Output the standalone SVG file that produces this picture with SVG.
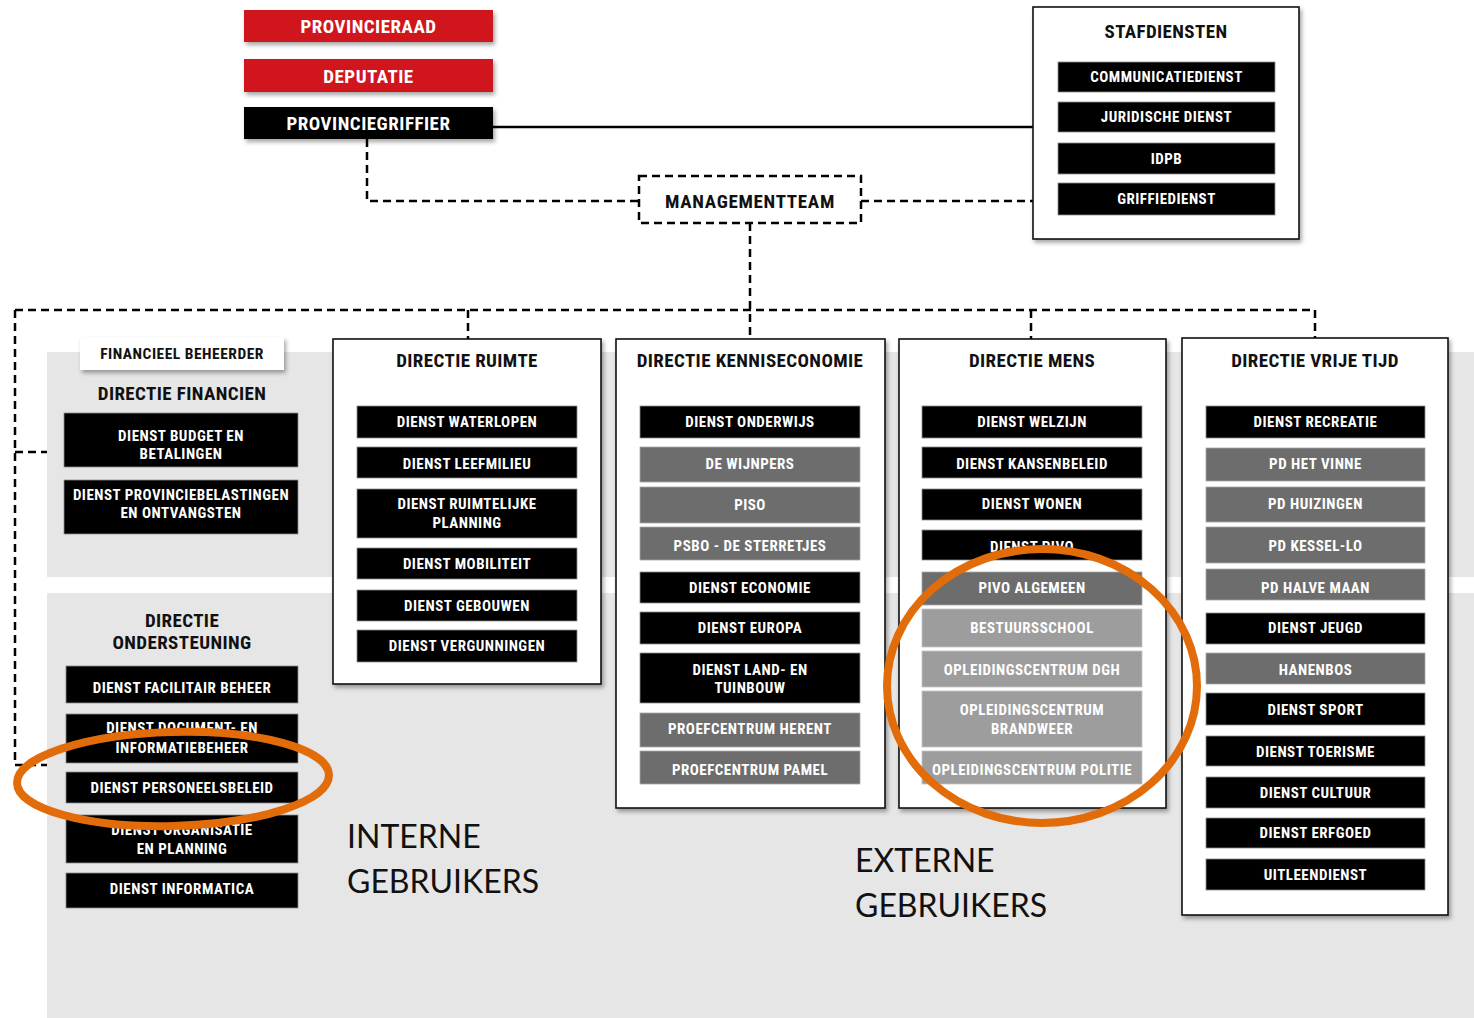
<svg xmlns="http://www.w3.org/2000/svg" width="1474" height="1018" viewBox="0 0 1474 1018">
<style>
.t{font-family:"Liberation Sans Narrow","Roboto Condensed","DejaVu Sans Condensed","Liberation Sans",sans-serif;font-weight:bold;text-anchor:middle;dominant-baseline:central}
.s{font-size:15px;letter-spacing:0.5px;fill:#fff}
.h{font-size:19px;letter-spacing:0.4px;fill:#111}
.b{font-size:19px;letter-spacing:0.5px;fill:#fff}
.k{fill:#000;stroke:#8c8c8c;stroke-width:0.8}
.g{fill:#6d6d6d;stroke:#a8a8a8;stroke-width:0.8}
.l{fill:#9d9d9d;stroke:#c4c4c4;stroke-width:0.8}
.box{fill:#fff;stroke:#111;stroke-width:1.6}
.red{fill:#d0171f}
.sol{fill:none;stroke:#000;stroke-width:2.5}
.dsh{fill:none;stroke:#000;stroke-width:2.5;stroke-dasharray:8 5}
.ov{fill:none;stroke:#e36c0a;stroke-width:8}
.big{font-family:Lato,"Open Sans","Liberation Sans",sans-serif;font-size:32px;fill:#111}
</style>
<defs>
<filter id="sh" x="-10%" y="-10%" width="125%" height="130%">
<feDropShadow dx="2" dy="3" stdDeviation="2" flood-color="#000" flood-opacity="0.35"/>
</filter>
</defs>
<rect width="1474" height="1018" fill="#fff"/>
<g id="background">
<rect x="47" y="352" width="1427" height="225" fill="#e6e6e6"/>
<rect x="47" y="593" width="1427" height="425" fill="#e6e6e6"/>
</g>
<g id="connectors">
<path class="sol" d="M493 127 H1033"/>
<path class="dsh" d="M367 139 V201 H639"/>
<path class="dsh" d="M861 201 H1033"/>
<path class="dsh" d="M750 223 V339"/>
<path class="dsh" d="M15 310 H1315"/>
<path class="dsh" d="M468 310 V339"/>
<path class="dsh" d="M1031 310 V339"/>
<path class="dsh" d="M1315 310 V338"/>
<path class="dsh" d="M15 310 V765 H47"/>
<path class="dsh" d="M15 452 H47"/>
</g>
<g id="provincieraad"><rect class="red" x="244" y="10" width="249" height="32" filter="url(#sh)"/><text class="t b" x="368.5" y="26.5">PROVINCIERAAD</text></g>
<g id="deputatie"><rect class="red" x="244" y="59" width="249" height="33" filter="url(#sh)"/><text class="t b" x="368.5" y="76">DEPUTATIE</text></g>
<g id="provinciegriffier"><rect x="244" y="107" width="249" height="32" fill="#000" filter="url(#sh)"/><text class="t b" x="368.5" y="123.5">PROVINCIEGRIFFIER</text></g>
<g id="managementteam"><rect class="dsh" x="639" y="176" width="222" height="47" fill="#fff"/><text class="t h" x="750" y="201" style="letter-spacing:0.7px">MANAGEMENTTEAM</text></g>
<g id="stafdiensten">
<rect class="box" x="1033" y="7" width="266" height="232" filter="url(#sh)"/>
<text class="t h" x="1166" y="31">STAFDIENSTEN</text>
<rect class="k" x="1058" y="62" width="217" height="30"/><text class="t s" x="1166.5" y="77">COMMUNICATIEDIENST</text>
<rect class="k" x="1058" y="102" width="217" height="30"/><text class="t s" x="1166.5" y="117">JURIDISCHE DIENST</text>
<rect class="k" x="1058" y="143" width="217" height="31"/><text class="t s" x="1166.5" y="158.5">IDPB</text>
<rect class="k" x="1058" y="183" width="217" height="32"/><text class="t s" x="1166.5" y="199">GRIFFIEDIENST</text>
</g>
<g id="directie-financien">
<rect x="80" y="337" width="204" height="33" fill="#fff" filter="url(#sh)"/>
<text class="t" x="182" y="354" style="font-size:15.5px;letter-spacing:0.5px;fill:#111">FINANCIEEL BEHEERDER</text>
<text class="t h" x="182" y="393">DIRECTIE FINANCIEN</text>
<rect class="k" x="64" y="413" width="234" height="54"/><text class="t s" x="181" y="436">DIENST BUDGET EN</text><text class="t s" x="181" y="454">BETALINGEN</text>
<rect class="k" x="64" y="480" width="234" height="54"/><text class="t s" x="181" y="495">DIENST PROVINCIEBELASTINGEN</text><text class="t s" x="181" y="513">EN ONTVANGSTEN</text>
</g>
<g id="directie-ondersteuning">
<text class="t h" x="182" y="620">DIRECTIE</text><text class="t h" x="182" y="642">ONDERSTEUNING</text>
<rect class="k" x="66" y="666" width="232" height="37"/><text class="t s" x="182" y="688">DIENST FACILITAIR BEHEER</text>
<rect class="k" x="66" y="714" width="232" height="49"/><text class="t s" x="182" y="728">DIENST DOCUMENT- EN</text><text class="t s" x="182" y="748">INFORMATIEBEHEER</text>
<rect class="k" x="66" y="772" width="232" height="31"/><text class="t s" x="182" y="788">DIENST PERSONEELSBELEID</text>
<rect class="k" x="66" y="815" width="232" height="48"/><text class="t s" x="182" y="830">DIENST ORGANISATIE</text><text class="t s" x="182" y="849">EN PLANNING</text>
<rect class="k" x="66" y="873" width="232" height="35"/><text class="t s" x="182" y="889">DIENST INFORMATICA</text>
</g>
<g id="directie-ruimte">
<rect class="box" x="333" y="339" width="268" height="345" filter="url(#sh)"/>
<text class="t h" x="467" y="360">DIRECTIE RUIMTE</text>
<rect class="k" x="357" y="406" width="220" height="32"/><text class="t s" x="467" y="422">DIENST WATERLOPEN</text>
<rect class="k" x="357" y="447" width="220" height="31"/><text class="t s" x="467" y="463.5">DIENST LEEFMILIEU</text>
<rect class="k" x="357" y="489" width="220" height="49"/><text class="t s" x="467" y="504">DIENST RUIMTELIJKE</text><text class="t s" x="467" y="523">PLANNING</text>
<rect class="k" x="357" y="548" width="220" height="31"/><text class="t s" x="467" y="564">DIENST MOBILITEIT</text>
<rect class="k" x="357" y="590" width="220" height="31"/><text class="t s" x="467" y="606">DIENST GEBOUWEN</text>
<rect class="k" x="357" y="630" width="220" height="32"/><text class="t s" x="467" y="646">DIENST VERGUNNINGEN</text>
</g>
<g id="directie-kenniseconomie">
<rect class="box" x="616" y="339" width="269" height="469" filter="url(#sh)"/>
<text class="t h" x="750" y="360">DIRECTIE KENNISECONOMIE</text>
<rect class="k" x="640" y="406" width="220" height="32"/><text class="t s" x="750" y="422">DIENST ONDERWIJS</text>
<rect class="g" x="640" y="447" width="220" height="35"/><text class="t s" x="750" y="464">DE WIJNPERS</text>
<rect class="g" x="640" y="487" width="220" height="36"/><text class="t s" x="750" y="505">PISO</text>
<rect class="g" x="640" y="527" width="220" height="33"/><text class="t s" x="750" y="546">PSBO - DE STERRETJES</text>
<rect class="k" x="640" y="572" width="220" height="31"/><text class="t s" x="750" y="588">DIENST ECONOMIE</text>
<rect class="k" x="640" y="612" width="220" height="32"/><text class="t s" x="750" y="628">DIENST EUROPA</text>
<rect class="k" x="640" y="653" width="220" height="50"/><text class="t s" x="750" y="670">DIENST LAND- EN</text><text class="t s" x="750" y="688">TUINBOUW</text>
<rect class="g" x="640" y="713" width="220" height="34"/><text class="t s" x="750" y="729">PROEFCENTRUM HERENT</text>
<rect class="g" x="640" y="751" width="220" height="33"/><text class="t s" x="750" y="770">PROEFCENTRUM PAMEL</text>
</g>
<g id="directie-mens">
<rect class="box" x="899" y="339" width="267" height="469" filter="url(#sh)"/>
<text class="t h" x="1032" y="360">DIRECTIE MENS</text>
<rect class="k" x="922" y="406" width="220" height="32"/><text class="t s" x="1032" y="422">DIENST WELZIJN</text>
<rect class="k" x="922" y="447" width="220" height="31"/><text class="t s" x="1032" y="464">DIENST KANSENBELEID</text>
<rect class="k" x="922" y="489" width="220" height="31"/><text class="t s" x="1032" y="504">DIENST WONEN</text>
<rect class="k" x="922" y="530" width="220" height="30"/><text class="t s" x="1032" y="547">DIENST PIVO</text>
<rect class="g" x="922" y="572" width="220" height="33"/><text class="t s" x="1032" y="588">PIVO ALGEMEEN</text>
<rect class="l" x="922" y="609" width="220" height="38"/><text class="t s" x="1032" y="628">BESTUURSSCHOOL</text>
<rect class="l" x="922" y="651" width="220" height="36"/><text class="t s" x="1032" y="670">OPLEIDINGSCENTRUM DGH</text>
<rect class="l" x="922" y="691" width="220" height="56"/><text class="t s" x="1032" y="710">OPLEIDINGSCENTRUM</text><text class="t s" x="1032" y="729">BRANDWEER</text>
<rect class="l" x="922" y="751" width="220" height="33"/><text class="t s" x="1032" y="770">OPLEIDINGSCENTRUM POLITIE</text>
</g>
<g id="directie-vrije-tijd">
<rect class="box" x="1182" y="338" width="266" height="577" filter="url(#sh)"/>
<text class="t h" x="1315" y="360">DIRECTIE VRIJE TIJD</text>
<rect class="k" x="1206" y="406" width="219" height="32"/><text class="t s" x="1315.5" y="422">DIENST RECREATIE</text>
<rect class="g" x="1206" y="448" width="219" height="33"/><text class="t s" x="1315.5" y="464">PD HET VINNE</text>
<rect class="g" x="1206" y="487" width="219" height="35"/><text class="t s" x="1315.5" y="504">PD HUIZINGEN</text>
<rect class="g" x="1206" y="527" width="219" height="36"/><text class="t s" x="1315.5" y="546">PD KESSEL-LO</text>
<rect class="g" x="1206" y="569" width="219" height="31"/><text class="t s" x="1315.5" y="588">PD HALVE MAAN</text>
<rect class="k" x="1206" y="613" width="219" height="31"/><text class="t s" x="1315.5" y="628">DIENST JEUGD</text>
<rect class="g" x="1206" y="653" width="219" height="31"/><text class="t s" x="1315.5" y="670">HANENBOS</text>
<rect class="k" x="1206" y="693" width="219" height="32"/><text class="t s" x="1315.5" y="710">DIENST SPORT</text>
<rect class="k" x="1206" y="736" width="219" height="30"/><text class="t s" x="1315.5" y="752">DIENST TOERISME</text>
<rect class="k" x="1206" y="777" width="219" height="31"/><text class="t s" x="1315.5" y="793">DIENST CULTUUR</text>
<rect class="k" x="1206" y="818" width="219" height="30"/><text class="t s" x="1315.5" y="833">DIENST ERFGOED</text>
<rect class="k" x="1206" y="859" width="219" height="31"/><text class="t s" x="1315.5" y="875">UITLEENDIENST</text>
</g>
<g id="highlights">
<ellipse class="ov" cx="173" cy="779" rx="156" ry="47" transform="rotate(-1.5 173 779)"/>
<ellipse class="ov" cx="1042" cy="686" rx="155" ry="137"/>
</g>
<g id="labels">
<text class="big" x="347" y="848">INTERNE</text>
<text class="big" x="347" y="893">GEBRUIKERS</text>
<text class="big" x="855" y="872">EXTERNE</text>
<text class="big" x="855" y="917">GEBRUIKERS</text>
</g>
</svg>
